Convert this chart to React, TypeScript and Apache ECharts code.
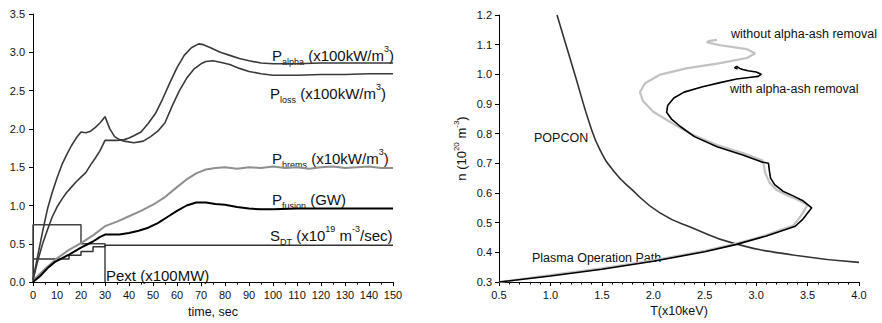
import React, { useEffect, useRef } from 'react';
import * as echarts from 'echarts';

const FONT = "'Liberation Sans', Arial, Helvetica, sans-serif";

// ---------- Left panel: time traces (t [s], value) ----------
const pAlpha: [number, number][] = [
  [0, 0.03], [2, 0.28], [4, 0.5], [6, 0.68], [8, 0.85], [10, 0.98], [12, 1.08], [14, 1.17], [16, 1.24],
  [18, 1.31], [20, 1.37], [22, 1.43], [24, 1.53], [26, 1.62], [28, 1.72], [30, 1.85], [32, 1.85], [35, 1.85],
  [38, 1.86], [40, 1.88], [42, 1.91], [45, 1.96], [48, 2.07], [51, 2.2], [54, 2.39], [57, 2.6], [60, 2.8],
  [63, 2.96], [66, 3.06], [69, 3.11], [71, 3.1], [74, 3.06], [78, 3.0], [82, 2.96], [86, 2.92], [90, 2.89],
  [95, 2.86], [100, 2.85], [110, 2.85], [120, 2.86], [130, 2.86], [140, 2.86], [150, 2.86],
];
const pLoss: [number, number][] = [
  [0, 0.03], [2, 0.35], [4, 0.66], [6, 0.95], [8, 1.17], [10, 1.36], [12, 1.53], [14, 1.66], [16, 1.78],
  [18, 1.88], [20, 1.96], [22, 1.95], [24, 1.97], [26, 2.02], [28, 2.08], [30, 2.16], [32, 2.0], [34, 1.9],
  [36, 1.86], [38, 1.84], [42, 1.82], [46, 1.84], [49, 1.9], [52, 1.97], [55, 2.08], [58, 2.3], [61, 2.5],
  [64, 2.66], [67, 2.78], [70, 2.85], [72, 2.88], [75, 2.89], [78, 2.87], [82, 2.84], [86, 2.79], [90, 2.75],
  [95, 2.72], [100, 2.7], [110, 2.7], [120, 2.71], [130, 2.71], [140, 2.72], [150, 2.72],
];
const pBrems: [number, number][] = [
  [0, 0.02], [5, 0.17], [10, 0.31], [15, 0.42], [20, 0.51], [25, 0.61], [30, 0.73], [35, 0.79], [40, 0.86],
  [45, 0.93], [50, 1.01], [55, 1.11], [60, 1.24], [64, 1.34], [68, 1.42], [72, 1.47], [76, 1.49], [80, 1.5],
  [85, 1.48], [90, 1.5], [95, 1.49], [100, 1.51], [105, 1.49], [110, 1.5], [115, 1.48], [120, 1.5],
  [125, 1.51], [130, 1.49], [135, 1.5], [140, 1.51], [145, 1.49], [150, 1.49],
];
const pFusion: [number, number][] = [
  [0, 0], [3, 0.08], [6, 0.18], [9, 0.26], [12, 0.31], [15, 0.36], [20, 0.45], [25, 0.53], [28, 0.59],
  [30, 0.62], [33, 0.62], [36, 0.62], [40, 0.64], [44, 0.67], [48, 0.71], [52, 0.77], [56, 0.85], [60, 0.93],
  [64, 1.0], [68, 1.04], [72, 1.04], [76, 1.02], [80, 1.01], [85, 0.98], [90, 0.96], [95, 0.95], [100, 0.95],
  [110, 0.96], [120, 0.96], [130, 0.96], [140, 0.96], [150, 0.96],
];
const sDT: [number, number][] = [
  [0, 0.3], [15, 0.3], [15, 0.35], [20, 0.35], [20, 0.4], [25, 0.4], [25, 0.46], [30, 0.46], [30, 0.48], [150, 0.48],
];
const pExt: [number, number][] = [
  [0, 0], [0, 0.75], [20, 0.75], [20, 0.5], [30, 0.5], [30, 0],
];

// ---------- Right panel: n vs T ----------
const popcon: [number, number][] = [
  [1.064, 1.2], [1.239, 0.998], [1.385, 0.829], [1.482, 0.745], [1.608, 0.677], [1.774, 0.617],
  [2.065, 0.533], [2.405, 0.479], [2.775, 0.431], [3.358, 0.391], [4.0, 0.366],
];
const withAsh: [number, number][] = [
  [0.5, 0.3], [1.0, 0.32], [1.5, 0.343], [2.0, 0.37], [2.5, 0.402], [2.8, 0.426], [3.1, 0.455], [3.38, 0.488],
  [3.45, 0.51], [3.54, 0.55], [3.45, 0.575], [3.35, 0.592], [3.26, 0.606], [3.18, 0.628], [3.14, 0.65],
  [3.13, 0.672], [3.12, 0.7], [3.05, 0.705], [2.87, 0.728], [2.62, 0.756], [2.4, 0.79], [2.26, 0.825],
  [2.18, 0.848], [2.13, 0.872], [2.14, 0.895], [2.2, 0.92], [2.3, 0.94], [2.48, 0.958], [2.65, 0.972],
  [2.81, 0.984], [2.95, 0.99], [3.02, 0.993], [3.05, 1.0], [3.0, 1.008], [2.92, 1.012], [2.87, 1.016],
  [2.84, 1.02], [2.81, 1.027], [2.79, 1.022], [2.82, 1.018],
];
const withoutAsh: [number, number][] = [
  [0.5, 0.3], [1.0, 0.323], [1.5, 0.346], [2.0, 0.373], [2.5, 0.405], [2.8, 0.429], [3.1, 0.458], [3.36, 0.49],
  [3.43, 0.52], [3.5, 0.56], [3.4, 0.578], [3.28, 0.596], [3.2, 0.61], [3.13, 0.635], [3.09, 0.666],
  [3.07, 0.7], [3.06, 0.71], [2.87, 0.735], [2.62, 0.762], [2.36, 0.8], [2.16, 0.84], [2.0, 0.874],
  [1.9, 0.91], [1.87, 0.94], [1.92, 0.97], [2.06, 0.998], [2.32, 1.02], [2.65, 1.038], [2.91, 1.055],
  [2.99, 1.07], [2.91, 1.085], [2.65, 1.098], [2.52, 1.108], [2.55, 1.113], [2.62, 1.116],
];

const richLabel = {
  m: { fontSize: 15, lineHeight: 22, verticalAlign: 'middle', fontFamily: FONT, fill: '#111' },
  s: { fontSize: 9, verticalAlign: 'bottom', fontFamily: FONT, fill: '#111' },
  u: { fontSize: 9, verticalAlign: 'top', fontFamily: FONT, fill: '#111' },
};

const axisCommon = {
  axisLine: { show: true, lineStyle: { color: '#000', width: 1 } },
  axisTick: { show: true, inside: false, length: 4, lineStyle: { color: '#000' } },
  splitLine: { show: false },
  axisLabel: { fontSize: 11, color: '#111', fontFamily: FONT, showMinLabel: true, showMaxLabel: true },
};

const fmt1 = (v: number) => v.toFixed(1);

function line(data: [number, number][], idx: number, color: string, width: number, smooth: boolean | number = false) {
  return {
    type: 'line',
    xAxisIndex: idx,
    yAxisIndex: idx,
    data,
    showSymbol: false,
    symbol: 'none',
    silent: true,
    smooth,
    lineStyle: { color, width },
  };
}

function labelText(x: number, y: number, text: string, fontSize = 13) {
  return {
    type: 'text',
    x,
    y,
    silent: true,
    style: { text, fill: '#111', fontSize, fontFamily: FONT, verticalAlign: 'middle', align: 'left' },
  };
}
function richText(x: number, y: number, text: string) {
  return {
    type: 'text',
    x,
    y,
    silent: true,
    style: { text, rich: richLabel, fill: '#111', fontFamily: FONT, verticalAlign: 'middle', align: 'left' },
  };
}

export default function App() {
  const ref = useRef<HTMLDivElement>(null);
  useEffect(() => {
    const chart = echarts.init(ref.current!, null, { renderer: 'svg' });
    chart.setOption({
      animation: false,
      backgroundColor: '#fff',
      grid: [
        { left: 33, top: 14, width: 360, height: 270 },
        { left: 499, top: 15, width: 360, height: 267 },
      ],
      xAxis: [
        {
          ...axisCommon,
          type: 'value', gridIndex: 0, min: 0, max: 150, interval: 10,
          minorTick: { show: true, splitNumber: 2, length: 2.5, lineStyle: { color: '#000' } },
          minorSplitLine: { show: false },
          axisLabel: { ...axisCommon.axisLabel, margin: 7 },
          name: 'time, sec', nameLocation: 'middle', nameGap: 22,
          nameTextStyle: { fontSize: 12.5, color: '#111', fontFamily: FONT },
        },
        {
          ...axisCommon,
          type: 'value', gridIndex: 1, min: 0.5, max: 4.0, interval: 0.5,
          minorTick: { show: true, splitNumber: 5, length: 2.5, lineStyle: { color: '#000' } },
          minorSplitLine: { show: false },
          axisLabel: { ...axisCommon.axisLabel, margin: 7, formatter: fmt1 },
          name: 'T(x10keV)', nameLocation: 'middle', nameGap: 22,
          nameTextStyle: { fontSize: 12.5, color: '#111', fontFamily: FONT },
        },
      ],
      yAxis: [
        {
          ...axisCommon,
          type: 'value', gridIndex: 0, min: 0, max: 3.5, interval: 0.5,
          axisLabel: { ...axisCommon.axisLabel, margin: 8, formatter: fmt1 },
        },
        {
          ...axisCommon,
          type: 'value', gridIndex: 1, min: 0.3, max: 1.2, interval: 0.1,
          axisLabel: { ...axisCommon.axisLabel, margin: 7, formatter: fmt1 },
          name: 'n (10{u|20} m{u|-3})', nameLocation: 'middle', nameGap: 29, nameRotate: 90,
          nameTextStyle: {
            fontSize: 13, color: '#111', fontFamily: FONT, lineHeight: 18,
            rich: { u: { fontSize: 8, verticalAlign: 'top', color: '#111', fontFamily: FONT } },
          },
        },
      ],
      series: [
        line(pExt, 0, '#444', 1.5),
        line(sDT, 0, '#333', 1.5),
        line(pBrems, 0, '#8f8f8f', 2),
        line(pFusion, 0, '#000', 2),
        line(pLoss, 0, '#3a3a3a', 1.6),
        line(pAlpha, 0, '#3a3a3a', 1.6),
        line(popcon, 1, '#333', 1.6, 0.5),
        line(withoutAsh, 1, '#c2c2c2', 2.2),
        line(withAsh, 1, '#000', 1.6),
      ],
      graphic: [
        richText(272, 55, '{m|P}{s|alpha}{m| (x100kW/m}{u|3}{m|)}'),
        richText(270, 93, '{m|P}{s|loss}{m| (x100kW/m}{u|3}{m|)}'),
        richText(272, 158, '{m|P}{s|brems}{m| (x10kW/m}{u|3}{m|)}'),
        richText(272, 199, '{m|P}{s|fusion}{m| (GW)}'),
        richText(270, 235, '{m|S}{s|DT}{m| (x10}{u|19}{m| m}{u|-3}{m|/sec)}'),
        labelText(106, 275, 'Pext (x100MW)', 15),
        labelText(731, 34, 'without alpha-ash removal', 12.5),
        labelText(730, 89, 'with alpha-ash removal', 12.5),
        labelText(534, 138, 'POPCON', 12.5),
        labelText(532, 258, 'Plasma Operation Path', 12.5),
      ],
    });
    return () => chart.dispose();
  }, []);
  return <div ref={ref} style={{ position: 'fixed', left: 0, top: 0, width: 882, height: 323 }} />;
}
